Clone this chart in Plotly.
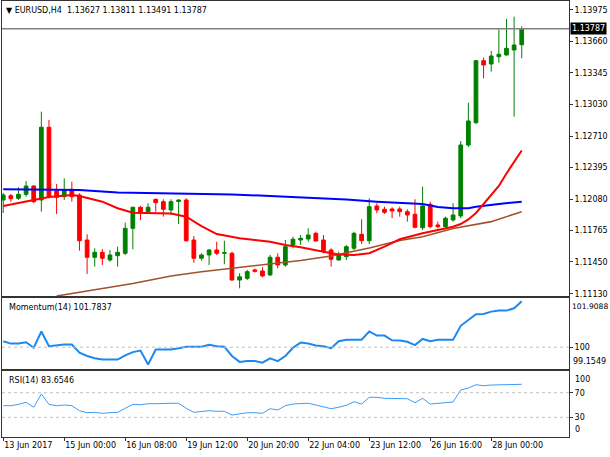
import plotly.graph_objects as go
from plotly.subplots import make_subplots

# EURUSD H4, 69 bars (13 Jun 2017 16:00 .. 28 Jun 2017 16:00)
bar_open = [1.12071, 1.12114, 1.12088, 1.12128, 1.12211, 1.12071, 1.12800, 1.12161, 1.12104, 1.12178,
            1.12121, 1.11670, 1.11497, 1.11547, 1.11470, 1.11513, 1.11537, 1.11787, 1.11998, 1.11954,
            1.12078, 1.12054, 1.11971, 1.12056, 1.12071, 1.11670, 1.11487, 1.11520, 1.11570, 1.11537,
            1.11537, 1.11269, 1.11286, 1.11370, 1.11360, 1.11320, 1.11497, 1.11420, 1.11620, 1.11670,
            1.11680, 1.11737, 1.11670, 1.11570, 1.11470, 1.11503, 1.11587, 1.11727, 1.11663, 1.12011,
            1.11978, 1.11981, 1.11981, 1.11954, 1.11928, 1.11793, 1.12028, 1.11821, 1.11804, 1.11871,
            1.11911, 1.12622, 1.12846, 1.13467, 1.13434, 1.13507, 1.13524, 1.13574, 1.13627]
bar_high = [1.12141, 1.12131, 1.12198, 1.12261, 1.12221, 1.12956, 1.12873, 1.12231, 1.12288, 1.12254,
            1.12138, 1.11727, 1.11587, 1.11580, 1.11570, 1.11603, 1.11844, 1.12004, 1.12011, 1.12038,
            1.12085, 1.12078, 1.12078, 1.12078, 1.12088, 1.11710, 1.11537, 1.11580, 1.11653, 1.11663,
            1.11553, 1.11337, 1.11370, 1.11383, 1.11397, 1.11520, 1.11537, 1.11670, 1.11703, 1.11720,
            1.11787, 1.11753, 1.11720, 1.11587, 1.11553, 1.11620, 1.11753, 1.11878, 1.12088, 1.12038,
            1.12004, 1.11998, 1.12004, 1.11978, 1.12078, 1.12204, 1.12054, 1.11854, 1.11904, 1.12038,
            1.12662, 1.13046, 1.13474, 1.13497, 1.13564, 1.13781, 1.13885, 1.13908, 1.13811]
bar_low = [1.11941, 1.12054, 1.12071, 1.12104, 1.12038, 1.11954, 1.12088, 1.11931, 1.12071, 1.12054,
           1.11563, 1.11330, 1.11403, 1.11420, 1.11453, 1.11403, 1.11520, 1.11577, 1.11871, 1.11938,
           1.11954, 1.11904, 1.11921, 1.11831, 1.11653, 1.11443, 1.11463, 1.11420, 1.11520, 1.11427,
           1.11262, 1.11186, 1.11269, 1.11343, 1.11297, 1.11310, 1.11387, 1.11403, 1.11587, 1.11620,
           1.11653, 1.11653, 1.11537, 1.11403, 1.11463, 1.11470, 1.11570, 1.11630, 1.11630, 1.11938,
           1.11931, 1.11888, 1.11904, 1.11854, 1.11787, 1.11770, 1.11787, 1.11787, 1.11787, 1.11854,
           1.11888, 1.12602, 1.12833, 1.13290, 1.13357, 1.13447, 1.13519, 1.12906, 1.13491]
bar_close = [1.12121, 1.12084, 1.12128, 1.12211, 1.12054, 1.12800, 1.12104, 1.12098, 1.12164, 1.12104,
             1.11663, 1.11497, 1.11547, 1.11487, 1.11520, 1.11547, 1.11787, 1.11998, 1.11938, 1.11998,
             1.12044, 1.11978, 1.12054, 1.12071, 1.11663, 1.11487, 1.11520, 1.11570, 1.11537, 1.11543,
             1.11269, 1.11302, 1.11353, 1.11357, 1.11310, 1.11497, 1.11420, 1.11603, 1.11677, 1.11687,
             1.11720, 1.11660, 1.11563, 1.11477, 1.11520, 1.11603, 1.11737, 1.11663, 1.12004, 1.11971,
             1.11948, 1.11961, 1.11954, 1.11921, 1.11797, 1.12011, 1.11804, 1.11804, 1.11888, 1.11921,
             1.12622, 1.12863, 1.13467, 1.13424, 1.13514, 1.13531, 1.13591, 1.13624, 1.13787]

# moving averages, read at selected bars
ma_fast_idx = [0, 4, 6, 9, 10, 13, 15, 17, 20, 22, 24, 26, 28, 31, 33, 35, 37, 39, 42, 44,
               46, 48, 50, 52, 55, 58, 59, 60, 61, 62, 63, 64, 65, 66, 67, 68]
ma_fast = [1.12011, 1.12071, 1.12101, 1.12121, 1.12111, 1.12054, 1.11988, 1.11944, 1.11938, 1.11936,
           1.11904, 1.11810, 1.11730, 1.11687, 1.11670, 1.11653, 1.11620, 1.11597, 1.11553, 1.11525,
           1.11520, 1.11537, 1.11603, 1.11677, 1.11737, 1.11785, 1.11803, 1.11830, 1.11876, 1.11941,
           1.12031, 1.12111, 1.12211, 1.12337, 1.12452, 1.12567]
ma_mid_idx = [7, 10, 13, 17, 22, 26, 30, 35, 39, 43, 48, 52, 55, 59, 64, 68]
ma_mid = [1.11109, 1.11144, 1.11184, 1.11234, 1.11309, 1.11352, 1.11385, 1.11425, 1.11465, 1.11510,
          1.11590, 1.11665, 1.11703, 1.11785, 1.11854, 1.11954]
ma_slow_idx = [0, 5, 10, 15, 20, 25, 30, 35, 40, 45, 49, 55, 57, 59, 61, 62, 65, 68]
ma_slow = [1.12178, 1.12176, 1.12171, 1.12146, 1.12138, 1.12136, 1.12126, 1.12111, 1.12096, 1.12076,
           1.12054, 1.12031, 1.12001, 1.11988, 1.11988, 1.12004, 1.12031, 1.12054]

momentum = [100.23, 100.14, 100.14, 100.19, 99.98, 100.61, 100.04, 100.08, 100.10, 100.10,
            99.79, 99.66, 99.57, 99.52, 99.52, 99.52, 99.68, 99.81, 99.87, 99.33,
            99.91, 99.91, 99.91, 99.96, 100.02, 100.02, 100.02, 100.09, 100.04, 100.02,
            99.66, 99.43, 99.46, 99.46, 99.40, 99.57, 99.46, 99.66, 99.98, 100.18,
            100.14, 100.07, 100.04, 99.96, 100.23, 100.29, 100.29, 100.29, 100.61, 100.45,
            100.45, 100.27, 100.26, 100.21, 100.08, 100.32, 100.23, 100.29, 100.29, 100.29,
            100.83, 101.06, 101.28, 101.29, 101.38, 101.42, 101.42, 101.51, 101.7837]
momentum_max = 101.9088
momentum_min = 99.1549

rsi = [48.9, 48.9, 51.1, 54.4, 46.3, 67.9, 51.1, 48.9, 50.0, 48.9,
       40.7, 37.5, 38.1, 36.5, 37.5, 38.1, 44.6, 51.1, 50.5, 52.1,
       52.1, 52.8, 52.8, 52.8, 44.6, 38.1, 39.8, 40.7, 39.8, 39.8,
       33.7, 35.4, 37.5, 37.5, 36.5, 44.0, 41.9, 48.9, 51.6, 52.4,
       52.8, 50.0, 47.2, 44.0, 46.3, 49.5, 55.4, 51.6, 62.5, 62.5,
       60.9, 60.9, 60.9, 60.2, 53.7, 60.9, 51.6, 52.8, 54.9, 54.9,
       74.4, 77.6, 83.0, 81.4, 82.5, 82.5, 83.0, 83.2, 83.6546]

price_ticks = [1.11130, 1.11450, 1.11765, 1.12080, 1.12395, 1.12710, 1.13030, 1.13345, 1.13660, 1.13975]
tick_idx = [0, 8, 16, 24, 32, 40, 48, 56, 64]
tick_labels = ["13 Jun 2017", "15 Jun 00:00", "16 Jun 08:00", "19 Jun 12:00", "20 Jun 20:00",
               "22 Jun 04:00", "23 Jun 12:00", "26 Jun 16:00", "28 Jun 00:00"]
last_price = 1.13787
chart_title = "▼ EURUSD,H4&nbsp;&nbsp;1.13627 1.13811 1.13491 1.13787"

FONT = "DejaVu Sans"
bars = list(range(len(bar_close)))

fig = make_subplots(rows=3, cols=1, shared_xaxes=True)

fig.add_trace(go.Candlestick(
    x=bars, open=bar_open, high=bar_high, low=bar_low, close=bar_close,
    increasing=dict(line=dict(color="#008000", width=1), fillcolor="#008000"),
    decreasing=dict(line=dict(color="#ff0000", width=1), fillcolor="#ff0000"),
    whiskerwidth=0, showlegend=False), row=1, col=1)
fig.add_trace(go.Scatter(x=ma_slow_idx, y=ma_slow, mode="lines",
                         line=dict(color="#0000ff", width=2), showlegend=False), row=1, col=1)
fig.add_trace(go.Scatter(x=ma_mid_idx, y=ma_mid, mode="lines",
                         line=dict(color="#a0522d", width=1.6), showlegend=False), row=1, col=1)
fig.add_trace(go.Scatter(x=ma_fast_idx, y=ma_fast, mode="lines",
                         line=dict(color="#ff0000", width=2), showlegend=False), row=1, col=1)

fig.add_trace(go.Scatter(x=bars, y=momentum, mode="lines",
                         line=dict(color="#1e88f0", width=2), showlegend=False), row=2, col=1)
fig.add_trace(go.Scatter(x=bars, y=rsi, mode="lines",
                         line=dict(color="#3d9cf5", width=1), showlegend=False), row=3, col=1)

# level lines
fig.add_hline(y=last_price, line=dict(color="#808080", width=1.5), row=1, col=1)
fig.add_hline(y=100, line=dict(color="#c0c0c0", width=1, dash="dot"), row=2, col=1)
fig.add_hline(y=70, line=dict(color="#c0c0c0", width=1, dash="dot"), row=3, col=1)
fig.add_hline(y=30, line=dict(color="#c0c0c0", width=1, dash="dot"), row=3, col=1)

axis_common = dict(showline=True, mirror=True, linecolor="#333333", linewidth=1,
                   showgrid=False, zeroline=False)
xrange = [-0.16, 74.2]
for r in (1, 2, 3):
    fig.update_xaxes(range=xrange, rangeslider_visible=False, row=r, col=1, **axis_common)
fig.update_xaxes(tickvals=tick_idx, ticktext=tick_labels, ticks="outside", ticklen=3,
                 tickcolor="#333333", ticklabelposition="outside right", showticklabels=True,
                 row=3, col=1)

fig.update_yaxes(side="right", ticks="outside", ticklen=3, tickcolor="#333333", **axis_common)
fig.update_layout(
    yaxis=dict(domain=[0.3234, 1], range=[1.11109, 1.14065], tickvals=price_ticks, tickformat=".5f"),
    yaxis2=dict(domain=[0.156, 0.3188], range=[momentum_min, momentum_max], tickvals=[100],
                ticktext=["100"]),
    yaxis3=dict(domain=[0, 0.1514], range=[-2.0, 105.3], tickvals=[70, 30], ticktext=["70", "30"]),
)

annotations = [
    dict(text=chart_title, xref="paper", yref="paper", x=0, y=1, xanchor="left", yanchor="top",
         xshift=2, yshift=-3, showarrow=False),
    dict(text="Momentum(14) " + str(momentum[-1]), xref="paper", yref="y2 domain", x=0, y=1,
         xanchor="left", yanchor="top", xshift=5, yshift=-3, showarrow=False),
    dict(text="RSI(14) " + str(rsi[-1]), xref="paper", yref="y3 domain", x=0, y=1,
         xanchor="left", yanchor="top", xshift=5, yshift=-3, showarrow=False),
    dict(text=f"{last_price:.5f}", xref="paper", yref="y", x=1, y=last_price, xanchor="left",
         yanchor="middle", xshift=1, showarrow=False, bgcolor="#000000",
         font=dict(color="#ffffff", family=FONT, size=8), borderpad=1),
    dict(text=f"{momentum_max:.4f}", xref="paper", yref="y2 domain", x=1, y=1, xanchor="left",
         yanchor="top", xshift=1, yshift=-2, showarrow=False, font=dict(size=7.6)),
    dict(text=f"{momentum_min:.4f}", xref="paper", yref="y2 domain", x=1, y=0, xanchor="left",
         yanchor="bottom", xshift=2, yshift=1, showarrow=False),
    dict(text="100", xref="paper", yref="y3 domain", x=1, y=1, xanchor="left",
         yanchor="top", xshift=4, yshift=-2, showarrow=False),
    dict(text="0", xref="paper", yref="y3 domain", x=1, y=0, xanchor="left",
         yanchor="bottom", xshift=4, yshift=1, showarrow=False),
]

fig.update_layout(
    width=610, height=457,
    margin=dict(l=2, r=41, t=1, b=20),
    paper_bgcolor="#ffffff", plot_bgcolor="#ffffff",
    font=dict(family=FONT, size=8, color="#000000"),
    annotations=annotations,
    showlegend=False,
    hovermode=False,
)

# page body has a default 8px margin; drop it so the figure sits at the window corner
fig.write_html("out.html", config={"displayModeBar": False},
               post_script="document.body.style.margin='0px';")
